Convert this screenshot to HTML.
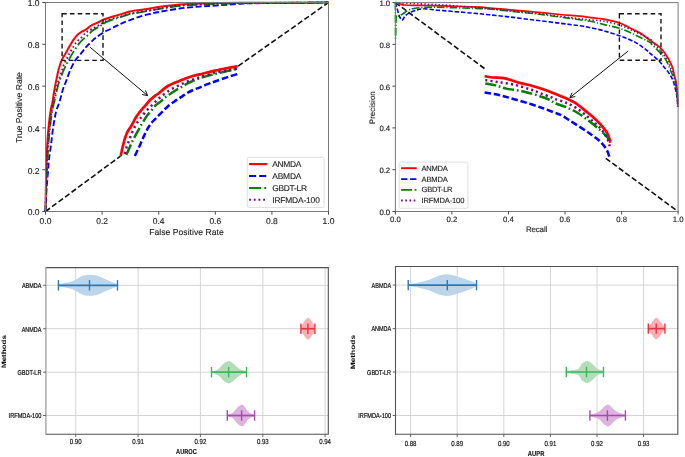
<!DOCTYPE html>
<html><head><meta charset="utf-8"><style>
html,body{margin:0;padding:0;background:#fff;}
svg{display:block;font-family:"Liberation Sans", sans-serif;filter:blur(0.5px);text-rendering:geometricPrecision;}
</style></head><body>
<svg width="685" height="457" viewBox="0 0 685 457">
<rect width="685" height="457" fill="#fff"/>
<g id="roc"><line x1="45.5" y1="211.5" x2="120.5" y2="156.1" stroke="#111" stroke-width="1.6" stroke-dasharray="5.5,2.6"/><line x1="238.2" y1="66.1" x2="328.5" y2="2.5" stroke="#111" stroke-width="1.6" stroke-dasharray="5.5,2.6"/><path d="M45.50,211.50 C45.55,207.92 45.62,198.58 45.80,190.00 C45.98,181.42 46.32,168.33 46.60,160.00 C46.88,151.67 47.18,145.33 47.50,140.00 C47.82,134.67 48.08,132.17 48.50,128.00 C48.92,123.83 49.50,118.67 50.00,115.00 C50.50,111.33 51.05,108.30 51.50,106.00 C51.95,103.70 52.27,103.63 52.70,101.20 C53.13,98.77 53.55,94.67 54.10,91.40 C54.65,88.13 55.28,85.08 56.00,81.60 C56.72,78.12 57.48,73.98 58.40,70.50 C59.32,67.02 60.17,63.77 61.50,60.70 C62.83,57.63 65.23,54.22 66.40,52.10 C67.57,49.98 67.70,49.43 68.50,48.00 C69.30,46.57 70.30,44.97 71.20,43.50 C72.10,42.03 72.80,40.70 73.90,39.20 C75.00,37.70 76.50,35.75 77.80,34.50 C79.10,33.25 80.38,32.50 81.70,31.70 C83.02,30.90 84.38,30.55 85.70,29.70 C87.02,28.85 88.55,27.37 89.60,26.60 C90.65,25.83 90.95,25.63 92.00,25.10 C93.05,24.57 94.58,24.00 95.90,23.40 C97.22,22.80 98.58,22.15 99.90,21.50 C101.22,20.85 102.27,20.12 103.80,19.50 C105.33,18.88 107.73,18.25 109.10,17.80 C110.47,17.35 109.85,17.45 112.00,16.80 C114.15,16.15 119.00,14.78 122.00,13.90 C125.00,13.02 127.00,12.17 130.00,11.50 C133.00,10.83 136.67,10.42 140.00,9.90 C143.33,9.38 146.67,8.92 150.00,8.40 C153.33,7.88 155.05,7.43 160.00,6.80 C164.95,6.17 173.13,5.17 179.70,4.60 C186.27,4.03 192.85,3.68 199.40,3.40 C205.95,3.12 212.23,3.02 219.00,2.90 C225.77,2.78 228.17,2.73 240.00,2.70 C251.83,2.67 275.25,2.73 290.00,2.70 C304.75,2.67 322.08,2.53 328.50,2.50" fill="none" stroke="#ff0000" stroke-width="1.9980000000000002" stroke-linejoin="round" stroke-linecap="butt" /><path d="M45.50,211.50 C45.67,207.92 46.05,196.98 46.50,190.00 C46.95,183.02 47.80,174.60 48.20,169.60 C48.60,164.60 48.43,164.10 48.90,160.00 C49.37,155.90 50.30,150.33 51.00,145.00 C51.70,139.67 52.27,133.50 53.10,128.00 C53.93,122.50 54.90,116.47 56.00,112.00 C57.10,107.53 58.58,104.83 59.70,101.20 C60.82,97.57 61.58,93.67 62.70,90.20 C63.82,86.73 65.17,83.68 66.40,80.40 C67.63,77.12 68.67,73.78 70.10,70.50 C71.53,67.22 73.17,63.55 75.00,60.70 C76.83,57.85 79.27,55.65 81.10,53.40 C82.93,51.15 84.58,48.85 86.00,47.20 C87.42,45.55 88.33,44.77 89.60,43.50 C90.87,42.23 92.55,40.58 93.60,39.60 C94.65,38.62 94.20,38.82 95.90,37.60 C97.60,36.38 101.38,33.73 103.80,32.30 C106.22,30.87 108.20,30.10 110.40,29.00 C112.60,27.90 115.07,26.65 117.00,25.70 C118.93,24.75 119.83,24.23 122.00,23.30 C124.17,22.37 127.00,21.22 130.00,20.10 C133.00,18.98 136.67,17.62 140.00,16.60 C143.33,15.58 146.67,14.80 150.00,14.00 C153.33,13.20 155.05,12.72 160.00,11.80 C164.95,10.88 173.13,9.37 179.70,8.50 C186.27,7.63 192.85,7.13 199.40,6.60 C205.95,6.07 212.43,5.75 219.00,5.30 C225.57,4.85 233.63,4.23 238.80,3.90 C243.97,3.57 241.47,3.45 250.00,3.30 C258.53,3.15 276.92,3.13 290.00,3.00 C303.08,2.87 322.08,2.58 328.50,2.50" fill="none" stroke="#0000ff" stroke-width="1.85" stroke-linejoin="round" stroke-linecap="butt" stroke-dasharray="5.99,2.59" /><path d="M45.50,211.50 C45.62,207.92 45.87,198.58 46.20,190.00 C46.53,181.42 47.07,168.33 47.50,160.00 C47.93,151.67 48.38,145.33 48.80,140.00 C49.22,134.67 49.47,132.67 50.00,128.00 C50.53,123.33 51.22,116.67 52.00,112.00 C52.78,107.33 53.73,104.25 54.70,100.00 C55.67,95.75 56.67,90.60 57.80,86.50 C58.93,82.40 60.07,79.08 61.50,75.40 C62.93,71.72 64.57,68.07 66.40,64.40 C68.23,60.73 70.67,56.47 72.50,53.40 C74.33,50.33 76.25,47.72 77.40,46.00 C78.55,44.28 78.28,44.37 79.40,43.10 C80.52,41.83 82.40,39.97 84.10,38.40 C85.80,36.83 88.28,34.93 89.60,33.70 C90.92,32.47 90.18,32.33 92.00,31.00 C93.82,29.67 98.32,27.07 100.50,25.70 C102.68,24.33 103.23,23.78 105.10,22.80 C106.97,21.82 109.50,20.63 111.70,19.80 C113.90,18.97 116.58,18.32 118.30,17.80 C120.02,17.28 120.05,17.32 122.00,16.70 C123.95,16.08 127.00,14.83 130.00,14.10 C133.00,13.37 136.67,12.88 140.00,12.30 C143.33,11.72 146.67,11.17 150.00,10.60 C153.33,10.03 155.05,9.68 160.00,8.90 C164.95,8.12 173.13,6.62 179.70,5.90 C186.27,5.18 192.85,4.93 199.40,4.60 C205.95,4.27 212.43,4.12 219.00,3.90 C225.57,3.68 226.97,3.48 238.80,3.30 C250.63,3.12 275.05,2.93 290.00,2.80 C304.95,2.67 322.08,2.55 328.50,2.50" fill="none" stroke="#008000" stroke-width="1.85" stroke-linejoin="round" stroke-linecap="butt" stroke-dasharray="10.37,2.59,1.62,2.59" /><path d="M45.50,211.50 C45.58,207.92 45.75,198.58 46.00,190.00 C46.25,181.42 46.63,168.33 47.00,160.00 C47.37,151.67 47.78,145.33 48.20,140.00 C48.62,134.67 48.95,132.67 49.50,128.00 C50.05,123.33 50.63,117.28 51.50,112.00 C52.37,106.72 53.75,100.75 54.70,96.30 C55.65,91.85 56.27,88.78 57.20,85.30 C58.13,81.82 59.17,78.88 60.30,75.40 C61.43,71.92 62.57,67.87 64.00,64.40 C65.43,60.93 67.27,57.67 68.90,54.60 C70.53,51.53 72.45,48.17 73.80,46.00 C75.15,43.83 75.55,43.20 77.00,41.60 C78.45,40.00 80.92,37.98 82.50,36.40 C84.08,34.82 84.92,33.33 86.50,32.10 C88.08,30.87 89.98,30.12 92.00,29.00 C94.02,27.88 96.42,26.65 98.60,25.40 C100.78,24.15 102.92,22.60 105.10,21.50 C107.28,20.40 109.50,19.53 111.70,18.80 C113.90,18.07 116.58,17.53 118.30,17.10 C120.02,16.67 120.05,16.77 122.00,16.20 C123.95,15.63 127.00,14.42 130.00,13.70 C133.00,12.98 136.67,12.48 140.00,11.90 C143.33,11.32 146.67,10.77 150.00,10.20 C153.33,9.63 155.05,9.27 160.00,8.50 C164.95,7.73 173.13,6.30 179.70,5.60 C186.27,4.90 192.85,4.63 199.40,4.30 C205.95,3.97 212.43,3.80 219.00,3.60 C225.57,3.40 226.97,3.25 238.80,3.10 C250.63,2.95 275.05,2.80 290.00,2.70 C304.95,2.60 322.08,2.53 328.50,2.50" fill="none" stroke="#800080" stroke-width="1.85" stroke-linejoin="round" stroke-linecap="butt" stroke-dasharray="1.7,2.5" /><path d="M120.60,155.90 C120.67,155.72 120.75,155.90 121.00,154.80 C121.25,153.70 121.67,151.22 122.10,149.30 C122.53,147.38 123.05,145.37 123.60,143.30 C124.15,141.23 124.72,138.88 125.40,136.90 C126.08,134.92 126.88,132.97 127.70,131.40 C128.52,129.83 129.52,128.73 130.30,127.50 C131.08,126.27 131.55,125.53 132.40,124.00 C133.25,122.47 134.32,120.13 135.40,118.30 C136.48,116.47 137.73,114.58 138.90,113.00 C140.07,111.42 141.23,110.15 142.40,108.80 C143.57,107.45 144.63,106.37 145.90,104.90 C147.17,103.43 148.58,101.43 150.00,100.00 C151.42,98.57 152.93,97.42 154.40,96.30 C155.87,95.18 157.17,94.58 158.80,93.30 C160.43,92.02 162.48,89.93 164.20,88.60 C165.92,87.27 167.45,86.22 169.10,85.30 C170.75,84.38 172.37,83.83 174.10,83.10 C175.83,82.37 177.50,81.72 179.50,80.90 C181.50,80.08 183.90,79.02 186.10,78.20 C188.30,77.38 190.38,76.63 192.70,76.00 C195.02,75.37 197.27,75.07 200.00,74.40 C202.73,73.73 206.05,72.73 209.10,72.00 C212.15,71.27 215.48,70.62 218.30,70.00 C221.12,69.38 222.77,68.92 226.00,68.30 C229.23,67.68 235.75,66.63 237.70,66.30" fill="none" stroke="#ff0000" stroke-width="2.7" stroke-linejoin="round" stroke-linecap="butt" /><path d="M134.90,156.00 C135.30,155.12 136.53,152.32 137.30,150.70 C138.07,149.08 138.82,147.78 139.50,146.30 C140.18,144.82 140.88,143.03 141.40,141.80 C141.92,140.57 141.93,140.35 142.60,138.90 C143.27,137.45 144.47,134.97 145.40,133.10 C146.33,131.23 147.15,129.45 148.20,127.70 C149.25,125.95 150.30,124.28 151.70,122.60 C153.10,120.92 154.88,119.35 156.60,117.60 C158.32,115.85 160.18,113.92 162.00,112.10 C163.82,110.28 165.48,108.43 167.50,106.70 C169.52,104.97 171.92,103.25 174.10,101.70 C176.28,100.15 178.42,98.85 180.60,97.40 C182.78,95.95 185.00,94.28 187.20,93.00 C189.40,91.72 191.67,90.65 193.80,89.70 C195.93,88.75 197.72,88.22 200.00,87.30 C202.28,86.38 204.88,85.22 207.50,84.20 C210.12,83.18 212.15,82.47 215.70,81.20 C219.25,79.93 225.08,77.82 228.80,76.60 C232.52,75.38 236.47,74.35 238.00,73.90" fill="none" stroke="#0000ff" stroke-width="2.5" stroke-linejoin="round" stroke-linecap="butt" stroke-dasharray="6.51,2.82" /><path d="M126.20,154.80 C126.45,154.32 127.15,153.07 127.70,151.90 C128.25,150.73 128.83,149.35 129.50,147.80 C130.17,146.25 131.02,144.08 131.70,142.60 C132.38,141.12 132.92,140.20 133.60,138.90 C134.28,137.60 135.05,136.17 135.80,134.80 C136.55,133.43 137.35,132.10 138.10,130.70 C138.85,129.30 139.58,127.67 140.30,126.40 C141.02,125.13 141.60,124.40 142.40,123.10 C143.20,121.80 144.22,119.98 145.10,118.60 C145.98,117.22 146.70,116.10 147.70,114.80 C148.70,113.50 149.80,112.35 151.10,110.80 C152.40,109.25 153.87,107.07 155.50,105.50 C157.13,103.93 159.27,102.77 160.90,101.40 C162.53,100.03 163.65,98.62 165.30,97.30 C166.95,95.98 169.07,94.68 170.80,93.50 C172.53,92.32 174.07,91.20 175.70,90.20 C177.33,89.20 178.87,88.50 180.60,87.50 C182.33,86.50 184.27,85.20 186.10,84.20 C187.93,83.20 189.60,82.40 191.60,81.50 C193.60,80.60 195.87,79.62 198.10,78.80 C200.33,77.98 202.07,77.45 205.00,76.60 C207.93,75.75 212.38,74.53 215.70,73.70 C219.02,72.87 221.23,72.47 224.90,71.60 C228.57,70.73 235.57,69.02 237.70,68.50" fill="none" stroke="#008000" stroke-width="2.5" stroke-linejoin="round" stroke-linecap="butt" stroke-dasharray="11.26,2.82,1.76,2.82" /><path d="M124.80,153.80 C124.90,153.48 125.05,153.15 125.40,151.90 C125.75,150.65 126.33,148.03 126.90,146.30 C127.47,144.57 128.18,143.17 128.80,141.50 C129.42,139.83 129.98,137.98 130.60,136.30 C131.22,134.62 131.75,133.08 132.50,131.40 C133.25,129.72 134.22,127.82 135.10,126.20 C135.98,124.58 136.80,123.13 137.80,121.70 C138.80,120.27 140.03,118.98 141.10,117.60 C142.17,116.22 143.13,114.73 144.20,113.40 C145.27,112.07 146.27,110.90 147.50,109.60 C148.73,108.30 150.27,106.92 151.60,105.60 C152.93,104.28 154.22,102.93 155.50,101.70 C156.78,100.47 157.93,99.38 159.30,98.20 C160.67,97.02 162.23,95.75 163.70,94.60 C165.17,93.45 166.65,92.30 168.10,91.30 C169.55,90.30 170.85,89.45 172.40,88.60 C173.95,87.75 175.75,87.02 177.40,86.20 C179.05,85.38 180.67,84.48 182.30,83.70 C183.93,82.92 185.57,82.15 187.20,81.50 C188.83,80.85 190.47,80.35 192.10,79.80 C193.73,79.25 195.18,78.80 197.00,78.20 C198.82,77.60 199.88,77.13 203.00,76.20 C206.12,75.27 211.40,73.55 215.70,72.60 C220.00,71.65 225.13,71.18 228.80,70.50 C232.47,69.82 236.22,68.83 237.70,68.50" fill="none" stroke="#800080" stroke-width="2.5" stroke-linejoin="round" stroke-linecap="butt" stroke-dasharray="2.1,3.4" /><rect x="62.1" y="13.8" width="40.9" height="46.6" fill="none" stroke="#151515" stroke-width="1.4" stroke-dasharray="4.6,3.2"/><line x1="89.9" y1="47.1" x2="147.6" y2="95.6" stroke="#111" stroke-width="1"/><polyline points="142.2,94.5 147.6,95.6 145.5,90.5" fill="none" stroke="#111" stroke-width="1"/><rect x="45.5" y="2.5" width="283.0" height="209.0" fill="none" stroke="#7a7a7a" stroke-width="1.0"/><line x1="45.5" y1="211.5" x2="45.5" y2="214.7" stroke="#3a3a3a" stroke-width="0.9"/><line x1="42.3" y1="211.5" x2="45.5" y2="211.5" stroke="#3a3a3a" stroke-width="0.9"/><text x="45.5" y="223.6" font-size="8.5" text-anchor="middle" fill="#202020" stroke="#202020" stroke-width="0.12" textLength="11.8" lengthAdjust="spacing" >0.0</text><text x="39.6" y="215.3" font-size="8.5" text-anchor="end" fill="#202020" stroke="#202020" stroke-width="0.12" textLength="11.8" lengthAdjust="spacing" >0.0</text><line x1="102.1" y1="211.5" x2="102.1" y2="214.7" stroke="#3a3a3a" stroke-width="0.9"/><line x1="42.3" y1="169.7" x2="45.5" y2="169.7" stroke="#3a3a3a" stroke-width="0.9"/><text x="102.1" y="223.6" font-size="8.5" text-anchor="middle" fill="#202020" stroke="#202020" stroke-width="0.12" textLength="11.8" lengthAdjust="spacing" >0.2</text><text x="39.6" y="173.5" font-size="8.5" text-anchor="end" fill="#202020" stroke="#202020" stroke-width="0.12" textLength="11.8" lengthAdjust="spacing" >0.2</text><line x1="158.7" y1="211.5" x2="158.7" y2="214.7" stroke="#3a3a3a" stroke-width="0.9"/><line x1="42.3" y1="127.9" x2="45.5" y2="127.9" stroke="#3a3a3a" stroke-width="0.9"/><text x="158.7" y="223.6" font-size="8.5" text-anchor="middle" fill="#202020" stroke="#202020" stroke-width="0.12" textLength="11.8" lengthAdjust="spacing" >0.4</text><text x="39.6" y="131.7" font-size="8.5" text-anchor="end" fill="#202020" stroke="#202020" stroke-width="0.12" textLength="11.8" lengthAdjust="spacing" >0.4</text><line x1="215.3" y1="211.5" x2="215.3" y2="214.7" stroke="#3a3a3a" stroke-width="0.9"/><line x1="42.3" y1="86.1" x2="45.5" y2="86.1" stroke="#3a3a3a" stroke-width="0.9"/><text x="215.3" y="223.6" font-size="8.5" text-anchor="middle" fill="#202020" stroke="#202020" stroke-width="0.12" textLength="11.8" lengthAdjust="spacing" >0.6</text><text x="39.6" y="89.9" font-size="8.5" text-anchor="end" fill="#202020" stroke="#202020" stroke-width="0.12" textLength="11.8" lengthAdjust="spacing" >0.6</text><line x1="271.9" y1="211.5" x2="271.9" y2="214.7" stroke="#3a3a3a" stroke-width="0.9"/><line x1="42.3" y1="44.3" x2="45.5" y2="44.3" stroke="#3a3a3a" stroke-width="0.9"/><text x="271.9" y="223.6" font-size="8.5" text-anchor="middle" fill="#202020" stroke="#202020" stroke-width="0.12" textLength="11.8" lengthAdjust="spacing" >0.8</text><text x="39.6" y="48.1" font-size="8.5" text-anchor="end" fill="#202020" stroke="#202020" stroke-width="0.12" textLength="11.8" lengthAdjust="spacing" >0.8</text><line x1="328.5" y1="211.5" x2="328.5" y2="214.7" stroke="#3a3a3a" stroke-width="0.9"/><line x1="42.3" y1="2.5" x2="45.5" y2="2.5" stroke="#3a3a3a" stroke-width="0.9"/><text x="328.5" y="223.6" font-size="8.5" text-anchor="middle" fill="#202020" stroke="#202020" stroke-width="0.12" textLength="11.8" lengthAdjust="spacing" >1.0</text><text x="39.6" y="6.3" font-size="8.5" text-anchor="end" fill="#202020" stroke="#202020" stroke-width="0.12" textLength="11.8" lengthAdjust="spacing" >1.0</text><text x="186.5" y="234.8" font-size="8.6" text-anchor="middle" fill="#202020" stroke="#202020" stroke-width="0.12" textLength="74.4" lengthAdjust="spacing" >False Positive Rate</text><text x="22.1" y="107.6" font-size="8.6" text-anchor="middle" fill="#202020" stroke="#202020" stroke-width="0.12" textLength="71" lengthAdjust="spacing" transform="rotate(-90 22.1 107.6)" >True Positive Rate</text><rect x="247.3" y="157.3" width="76.8" height="50.2" rx="1.5" fill="#fff" fill-opacity="0.8" stroke="#d8d8d8" stroke-width="0.8"/><polyline points="249.1,164.1 266.9,164.1" fill="none" stroke="#ff0000" stroke-width="2.16" stroke-linejoin="round" stroke-linecap="butt" /><text x="272.2" y="166.9896" font-size="8.4" text-anchor="start" fill="#202020" stroke="#202020" stroke-width="0.12" textLength="29.2" lengthAdjust="spacing" >ANMDA</text><polyline points="249.1,176.1 266.9,176.1" fill="none" stroke="#0000ff" stroke-width="2.0" stroke-linejoin="round" stroke-linecap="butt" stroke-dasharray="7.03,3.04" /><text x="272.2" y="178.9896" font-size="8.4" text-anchor="start" fill="#202020" stroke="#202020" stroke-width="0.12" textLength="29.2" lengthAdjust="spacing" >ABMDA</text><polyline points="249.1,187.9 266.9,187.9" fill="none" stroke="#008000" stroke-width="2.0" stroke-linejoin="round" stroke-linecap="butt" stroke-dasharray="12.16,3.04,1.90,3.04" /><text x="272.2" y="190.7896" font-size="8.4" text-anchor="start" fill="#202020" stroke="#202020" stroke-width="0.12" textLength="34.8" lengthAdjust="spacing" >GBDT-LR</text><polyline points="249.1,199.7 266.9,199.7" fill="none" stroke="#800080" stroke-width="2.0" stroke-linejoin="round" stroke-linecap="butt" stroke-dasharray="1.8,2.9" /><text x="272.2" y="202.5896" font-size="8.4" text-anchor="start" fill="#202020" stroke="#202020" stroke-width="0.12" textLength="47.6" lengthAdjust="spacing" >IRFMDA-100</text></g><g id="pr"><line x1="395.4" y1="2.6" x2="484.6" y2="68.6" stroke="#111" stroke-width="1.6" stroke-dasharray="5.5,2.6"/><line x1="605.8" y1="158.4" x2="678.1" y2="211.5" stroke="#111" stroke-width="1.6" stroke-dasharray="5.5,2.6"/><path d="M395.40,2.60 C396.17,2.83 398.47,3.60 400.00,4.00 C401.53,4.40 401.27,4.77 404.60,5.00 C407.93,5.23 412.70,5.22 420.00,5.40 C427.30,5.58 438.40,5.80 448.40,6.10 C458.40,6.40 473.18,6.88 480.00,7.20 C486.82,7.52 484.30,7.57 489.30,8.00 C494.30,8.43 502.45,9.13 510.00,9.80 C517.55,10.47 526.27,11.22 534.60,12.00 C542.93,12.78 552.43,13.80 560.00,14.50 C567.57,15.20 575.13,15.72 580.00,16.20 C584.87,16.68 585.28,16.92 589.20,17.40 C593.12,17.88 598.30,18.12 603.50,19.10 C608.70,20.08 615.82,21.72 620.40,23.30 C624.98,24.88 627.47,26.83 631.00,28.60 C634.53,30.37 638.43,31.95 641.60,33.90 C644.77,35.85 646.87,37.98 650.00,40.30 C653.13,42.62 657.78,45.45 660.40,47.80 C663.02,50.15 664.17,52.20 665.70,54.40 C667.23,56.60 668.40,58.60 669.60,61.00 C670.80,63.40 672.13,66.47 672.90,68.80 C673.67,71.13 673.65,72.63 674.20,75.00 C674.75,77.37 675.67,79.98 676.20,83.00 C676.73,86.02 677.13,89.10 677.40,93.10 C677.67,97.10 677.73,104.68 677.80,107.00" fill="none" stroke="#ff0000" stroke-width="1.7280000000000002" stroke-linejoin="round" stroke-linecap="butt" /><path d="M395.40,2.60 C395.67,3.50 396.40,5.93 397.00,8.00 C397.60,10.07 398.28,13.05 399.00,15.00 C399.72,16.95 400.63,18.95 401.30,19.70 C401.97,20.45 402.38,20.12 403.00,19.50 C403.62,18.88 404.00,17.07 405.00,16.00 C406.00,14.93 407.33,14.02 409.00,13.10 C410.67,12.18 412.57,11.22 415.00,10.50 C417.43,9.78 419.73,8.85 423.60,8.80 C427.47,8.75 431.63,9.62 438.20,10.20 C444.77,10.78 456.03,11.70 463.00,12.30 C469.97,12.90 475.62,13.38 480.00,13.80 C484.38,14.22 484.30,14.27 489.30,14.80 C494.30,15.33 502.45,16.12 510.00,17.00 C517.55,17.88 526.27,19.07 534.60,20.10 C542.93,21.13 552.43,22.25 560.00,23.20 C567.57,24.15 575.13,25.08 580.00,25.80 C584.87,26.52 585.28,26.68 589.20,27.50 C593.12,28.32 598.30,29.28 603.50,30.70 C608.70,32.12 615.10,34.05 620.40,36.00 C625.70,37.95 631.05,40.13 635.30,42.40 C639.55,44.67 643.23,47.60 645.90,49.60 C648.57,51.60 649.10,52.50 651.30,54.40 C653.50,56.30 656.92,58.82 659.10,61.00 C661.28,63.18 662.65,65.32 664.40,67.50 C666.15,69.68 668.08,71.68 669.60,74.10 C671.12,76.52 672.38,78.83 673.50,82.00 C674.62,85.17 675.65,90.10 676.30,93.10 C676.95,96.10 677.15,97.68 677.40,100.00 C677.65,102.32 677.73,105.83 677.80,107.00" fill="none" stroke="#0000ff" stroke-width="1.6" stroke-linejoin="round" stroke-linecap="butt" stroke-dasharray="4.40,1.90" /><path d="M395.40,2.60 C395.43,8.50 395.47,35.60 395.60,38.00 C395.73,40.40 395.80,20.60 396.20,17.00 C396.60,13.40 397.08,16.80 398.00,16.40 C398.92,16.00 400.03,15.58 401.70,14.60 C403.37,13.62 405.97,11.52 408.00,10.50 C410.03,9.48 410.82,9.03 413.90,8.50 C416.98,7.97 420.48,7.45 426.50,7.30 C432.52,7.15 441.08,7.38 450.00,7.60 C458.92,7.82 473.45,8.37 480.00,8.60 C486.55,8.83 484.30,8.57 489.30,9.00 C494.30,9.43 502.45,10.42 510.00,11.20 C517.55,11.98 526.27,12.73 534.60,13.70 C542.93,14.67 552.43,15.98 560.00,17.00 C567.57,18.02 575.13,19.13 580.00,19.80 C584.87,20.47 585.28,20.23 589.20,21.00 C593.12,21.77 598.30,23.13 603.50,24.40 C608.70,25.67 615.10,26.83 620.40,28.60 C625.70,30.37 630.35,32.70 635.30,35.00 C640.25,37.30 647.43,40.92 650.10,42.40 C652.77,43.88 649.80,42.33 651.30,43.90 C652.80,45.47 656.70,49.18 659.10,51.80 C661.50,54.42 663.72,56.32 665.70,59.60 C667.68,62.88 669.48,68.10 671.00,71.50 C672.52,74.90 673.92,77.25 674.80,80.00 C675.68,82.75 675.83,84.67 676.30,88.00 C676.77,91.33 677.35,96.83 677.60,100.00 C677.85,103.17 677.77,105.83 677.80,107.00" fill="none" stroke="#008000" stroke-width="1.6" stroke-linejoin="round" stroke-linecap="butt" stroke-dasharray="7.62,1.90,1.19,1.90" /><path d="M395.40,2.60 C399.50,2.80 412.57,3.43 420.00,3.80 C427.43,4.17 433.33,4.40 440.00,4.80 C446.67,5.20 453.33,5.70 460.00,6.20 C466.67,6.70 475.12,7.40 480.00,7.80 C484.88,8.20 484.30,8.10 489.30,8.60 C494.30,9.10 502.45,10.03 510.00,10.80 C517.55,11.57 526.27,12.28 534.60,13.20 C542.93,14.12 552.43,15.37 560.00,16.30 C567.57,17.23 575.13,18.23 580.00,18.80 C584.87,19.37 585.28,19.30 589.20,19.70 C593.12,20.10 598.30,20.25 603.50,21.20 C608.70,22.15 615.10,23.63 620.40,25.40 C625.70,27.17 630.35,29.50 635.30,31.80 C640.25,34.10 647.43,37.62 650.10,39.20 C652.77,40.78 649.58,39.43 651.30,41.30 C653.02,43.17 657.78,47.35 660.40,50.40 C663.02,53.45 665.13,56.32 667.00,59.60 C668.87,62.88 670.23,66.70 671.60,70.10 C672.97,73.50 674.30,76.35 675.20,80.00 C676.10,83.65 676.60,88.67 677.00,92.00 C677.40,95.33 677.47,97.50 677.60,100.00 C677.73,102.50 677.77,105.83 677.80,107.00" fill="none" stroke="#800080" stroke-width="1.6" stroke-linejoin="round" stroke-linecap="butt" stroke-dasharray="1.4,2.2" /><path d="M484.60,76.20 C486.02,76.42 489.93,77.18 493.10,77.50 C496.27,77.82 500.32,77.55 503.60,78.10 C506.88,78.65 509.73,79.92 512.80,80.80 C515.87,81.68 518.72,82.53 522.00,83.40 C525.28,84.27 528.98,85.02 532.50,86.00 C536.02,86.98 539.58,88.10 543.10,89.30 C546.62,90.50 549.87,91.73 553.60,93.20 C557.33,94.67 561.77,96.40 565.50,98.10 C569.23,99.80 572.78,101.35 576.00,103.40 C579.22,105.45 581.88,108.07 584.80,110.40 C587.72,112.73 590.88,115.07 593.50,117.40 C596.12,119.73 598.30,121.92 600.50,124.40 C602.70,126.88 605.17,129.82 606.70,132.30 C608.23,134.78 609.12,137.55 609.70,139.30 C610.28,141.05 610.12,142.22 610.20,142.80" fill="none" stroke="#ff0000" stroke-width="2.7" stroke-linejoin="round" stroke-linecap="butt" /><path d="M484.60,92.60 C487.12,93.03 494.77,94.10 499.70,95.20 C504.63,96.30 509.17,97.77 514.20,99.20 C519.23,100.63 525.08,102.28 529.90,103.80 C534.72,105.32 539.15,106.88 543.10,108.30 C547.05,109.72 550.78,111.25 553.60,112.30 C556.42,113.35 557.43,113.32 560.00,114.60 C562.57,115.88 565.45,117.78 569.00,120.00 C572.55,122.22 577.50,125.42 581.30,127.90 C585.10,130.38 588.60,132.57 591.80,134.90 C595.00,137.23 598.02,139.42 600.50,141.90 C602.98,144.38 605.23,147.32 606.70,149.80 C608.17,152.28 608.87,155.63 609.30,156.80" fill="none" stroke="#0000ff" stroke-width="2.5" stroke-linejoin="round" stroke-linecap="butt" stroke-dasharray="6.44,2.78" /><path d="M485.30,83.40 C487.05,83.73 492.30,84.53 495.80,85.40 C499.30,86.27 502.37,87.73 506.30,88.60 C510.23,89.47 515.03,89.72 519.40,90.60 C523.77,91.48 528.55,92.80 532.50,93.90 C536.45,95.00 540.03,96.10 543.10,97.20 C546.17,98.30 548.92,99.50 550.90,100.50 C552.88,101.50 552.57,102.13 555.00,103.20 C557.43,104.27 561.70,105.27 565.50,106.90 C569.30,108.53 573.72,110.52 577.80,113.00 C581.88,115.48 586.22,118.88 590.00,121.80 C593.78,124.72 597.57,127.87 600.50,130.50 C603.43,133.13 606.13,135.40 607.60,137.60 C609.07,139.80 609.02,142.68 609.30,143.70" fill="none" stroke="#008000" stroke-width="2.5" stroke-linejoin="round" stroke-linecap="butt" stroke-dasharray="11.14,2.78,1.74,2.78" /><path d="M485.30,80.10 C487.48,80.43 493.58,81.33 498.40,82.10 C503.22,82.87 508.95,83.50 514.20,84.70 C519.45,85.90 525.53,87.88 529.90,89.30 C534.27,90.72 536.90,91.88 540.40,93.20 C543.90,94.52 548.47,96.23 550.90,97.20 C553.33,98.17 552.57,98.12 555.00,99.00 C557.43,99.88 562.00,101.03 565.50,102.50 C569.00,103.97 572.50,105.60 576.00,107.80 C579.50,110.00 583.28,113.08 586.50,115.70 C589.72,118.32 592.67,121.03 595.30,123.50 C597.93,125.97 600.25,127.87 602.30,130.50 C604.35,133.13 606.37,136.67 607.60,139.30 C608.83,141.93 609.35,145.13 609.70,146.30" fill="none" stroke="#800080" stroke-width="2.5" stroke-linejoin="round" stroke-linecap="butt" stroke-dasharray="2.1,3.1" /><rect x="619.4" y="13.8" width="41.6" height="46.5" fill="none" stroke="#151515" stroke-width="1.4" stroke-dasharray="4.6,3.2"/><line x1="628.1" y1="51.1" x2="569.9" y2="97.6" stroke="#111" stroke-width="1"/><polyline points="572.1,92.6 569.9,97.6 575.3,96.6" fill="none" stroke="#111" stroke-width="1"/><rect x="395.4" y="2.6" width="282.70000000000005" height="208.9" fill="none" stroke="#7a7a7a" stroke-width="1.0"/><line x1="395.4" y1="211.5" x2="395.4" y2="214.5" stroke="#3a3a3a" stroke-width="0.9"/><line x1="392.4" y1="211.5" x2="395.4" y2="211.5" stroke="#3a3a3a" stroke-width="0.9"/><text x="395.4" y="222.1" font-size="7.8" text-anchor="middle" fill="#202020" stroke="#202020" stroke-width="0.12" textLength="10.8" lengthAdjust="spacing" >0.0</text><text x="390.2" y="214.8" font-size="7.8" text-anchor="end" fill="#202020" stroke="#202020" stroke-width="0.12" textLength="10.8" lengthAdjust="spacing" >0.0</text><line x1="451.9" y1="211.5" x2="451.9" y2="214.5" stroke="#3a3a3a" stroke-width="0.9"/><line x1="392.4" y1="169.7" x2="395.4" y2="169.7" stroke="#3a3a3a" stroke-width="0.9"/><text x="451.9" y="222.1" font-size="7.8" text-anchor="middle" fill="#202020" stroke="#202020" stroke-width="0.12" textLength="10.8" lengthAdjust="spacing" >0.2</text><text x="390.2" y="173.1" font-size="7.8" text-anchor="end" fill="#202020" stroke="#202020" stroke-width="0.12" textLength="10.8" lengthAdjust="spacing" >0.2</text><line x1="508.5" y1="211.5" x2="508.5" y2="214.5" stroke="#3a3a3a" stroke-width="0.9"/><line x1="392.4" y1="127.9" x2="395.4" y2="127.9" stroke="#3a3a3a" stroke-width="0.9"/><text x="508.5" y="222.1" font-size="7.8" text-anchor="middle" fill="#202020" stroke="#202020" stroke-width="0.12" textLength="10.8" lengthAdjust="spacing" >0.4</text><text x="390.2" y="131.3" font-size="7.8" text-anchor="end" fill="#202020" stroke="#202020" stroke-width="0.12" textLength="10.8" lengthAdjust="spacing" >0.4</text><line x1="565.0" y1="211.5" x2="565.0" y2="214.5" stroke="#3a3a3a" stroke-width="0.9"/><line x1="392.4" y1="86.2" x2="395.4" y2="86.2" stroke="#3a3a3a" stroke-width="0.9"/><text x="565.0" y="222.1" font-size="7.8" text-anchor="middle" fill="#202020" stroke="#202020" stroke-width="0.12" textLength="10.8" lengthAdjust="spacing" >0.6</text><text x="390.2" y="89.5" font-size="7.8" text-anchor="end" fill="#202020" stroke="#202020" stroke-width="0.12" textLength="10.8" lengthAdjust="spacing" >0.6</text><line x1="621.6" y1="211.5" x2="621.6" y2="214.5" stroke="#3a3a3a" stroke-width="0.9"/><line x1="392.4" y1="44.4" x2="395.4" y2="44.4" stroke="#3a3a3a" stroke-width="0.9"/><text x="621.6" y="222.1" font-size="7.8" text-anchor="middle" fill="#202020" stroke="#202020" stroke-width="0.12" textLength="10.8" lengthAdjust="spacing" >0.8</text><text x="390.2" y="47.7" font-size="7.8" text-anchor="end" fill="#202020" stroke="#202020" stroke-width="0.12" textLength="10.8" lengthAdjust="spacing" >0.8</text><line x1="678.1" y1="211.5" x2="678.1" y2="214.5" stroke="#3a3a3a" stroke-width="0.9"/><line x1="392.4" y1="2.6" x2="395.4" y2="2.6" stroke="#3a3a3a" stroke-width="0.9"/><text x="678.1" y="222.1" font-size="7.8" text-anchor="middle" fill="#202020" stroke="#202020" stroke-width="0.12" textLength="10.8" lengthAdjust="spacing" >1.0</text><text x="390.2" y="5.9" font-size="7.8" text-anchor="end" fill="#202020" stroke="#202020" stroke-width="0.12" textLength="10.8" lengthAdjust="spacing" >1.0</text><text x="536.6" y="231.9" font-size="8.0" text-anchor="middle" fill="#202020" stroke="#202020" stroke-width="0.12" textLength="21.4" lengthAdjust="spacing" >Recall</text><text x="374.9" y="107.7" font-size="7.9" text-anchor="middle" fill="#202020" stroke="#202020" stroke-width="0.12" textLength="32.9" lengthAdjust="spacing" transform="rotate(-90 374.9 107.7)" >Precision</text><rect x="399.2" y="162.1" width="68.7" height="46.2" rx="1.5" fill="#fff" fill-opacity="0.8" stroke="#d8d8d8" stroke-width="0.8"/><polyline points="401.1,168.2 416.7,168.2" fill="none" stroke="#ff0000" stroke-width="1.9440000000000002" stroke-linejoin="round" stroke-linecap="butt" /><text x="421.6" y="170.81439999999998" font-size="7.6" text-anchor="start" fill="#202020" stroke="#202020" stroke-width="0.12" textLength="26.2" lengthAdjust="spacing" >ANMDA</text><polyline points="401.1,179.1 416.7,179.1" fill="none" stroke="#0000ff" stroke-width="1.8" stroke-linejoin="round" stroke-linecap="butt" stroke-dasharray="6.29,2.72" /><text x="421.6" y="181.71439999999998" font-size="7.6" text-anchor="start" fill="#202020" stroke="#202020" stroke-width="0.12" textLength="26.2" lengthAdjust="spacing" >ABMDA</text><polyline points="401.1,189.8 416.7,189.8" fill="none" stroke="#008000" stroke-width="1.8" stroke-linejoin="round" stroke-linecap="butt" stroke-dasharray="10.88,2.72,1.70,2.72" /><text x="421.6" y="192.4144" font-size="7.6" text-anchor="start" fill="#202020" stroke="#202020" stroke-width="0.12" textLength="31.0" lengthAdjust="spacing" >GBDT-LR</text><polyline points="401.1,200.5 416.7,200.5" fill="none" stroke="#800080" stroke-width="1.8" stroke-linejoin="round" stroke-linecap="butt" stroke-dasharray="1.6,2.6" /><text x="421.6" y="203.1144" font-size="7.6" text-anchor="start" fill="#202020" stroke="#202020" stroke-width="0.12" textLength="42.8" lengthAdjust="spacing" >IRFMDA-100</text></g><line x1="75.7" y1="267.6" x2="75.7" y2="434.3" stroke="#d4d4d4" stroke-width="1"/><line x1="138.1" y1="267.6" x2="138.1" y2="434.3" stroke="#d4d4d4" stroke-width="1"/><line x1="200.4" y1="267.6" x2="200.4" y2="434.3" stroke="#d4d4d4" stroke-width="1"/><line x1="262.8" y1="267.6" x2="262.8" y2="434.3" stroke="#d4d4d4" stroke-width="1"/><line x1="325.1" y1="267.6" x2="325.1" y2="434.3" stroke="#d4d4d4" stroke-width="1"/><line x1="45.9" y1="285.3" x2="328.3" y2="285.3" stroke="#d4d4d4" stroke-width="1"/><line x1="45.9" y1="328.7" x2="328.3" y2="328.7" stroke="#d4d4d4" stroke-width="1"/><line x1="45.9" y1="372.2" x2="328.3" y2="372.2" stroke="#d4d4d4" stroke-width="1"/><line x1="45.9" y1="415.5" x2="328.3" y2="415.5" stroke="#d4d4d4" stroke-width="1"/><path d="M58.4,284.1 L62.0,283.5 L67.5,282.6 L72.0,281.5 L76.9,279.1 L80.0,277.0 L82.7,275.8 L85.0,275.2 L87.4,274.8 L92.0,274.9 L96.7,275.6 L100.0,276.8 L103.7,278.5 L108.0,280.3 L111.9,282.0 L115.0,283.3 L117.5,284.3 L117.5,286.3 L115.0,287.3 L111.9,288.6 L108.0,290.3 L103.7,292.1 L100.0,293.8 L96.7,295.0 L92.0,295.7 L87.4,295.8 L85.0,295.4 L82.7,294.8 L80.0,293.6 L76.9,291.5 L72.0,289.1 L67.5,288.0 L62.0,287.1 L58.4,286.5 Z" fill="#bcd5ea" stroke="none"/><line x1="58.4" y1="285.3" x2="117.5" y2="285.3" stroke="#2a7ab9" stroke-width="1.7"/><line x1="58.4" y1="280.1" x2="58.4" y2="290.5" stroke="#2a7ab9" stroke-width="1.4"/><line x1="117.5" y1="280.1" x2="117.5" y2="290.5" stroke="#2a7ab9" stroke-width="1.4"/><line x1="89.5" y1="280.1" x2="89.5" y2="290.5" stroke="#2a7ab9" stroke-width="1.4"/><path d="M300.9,327.2 L302.0,325.2 L303.1,323.3 L305.0,320.4 L306.5,318.7 L307.9,317.8 L309.5,318.4 L311.0,320.4 L312.8,323.3 L314.0,325.7 L314.9,327.2 L314.9,330.2 L314.0,331.7 L312.8,334.1 L311.0,337.0 L309.5,339.0 L307.9,339.6 L306.5,338.7 L305.0,337.0 L303.1,334.1 L302.0,332.2 L300.9,330.2 Z" fill="#f9b1b6" stroke="none"/><line x1="300.9" y1="328.7" x2="314.9" y2="328.7" stroke="#e8323f" stroke-width="1.7"/><line x1="300.9" y1="323.5" x2="300.9" y2="333.9" stroke="#e8323f" stroke-width="1.4"/><line x1="314.9" y1="323.5" x2="314.9" y2="333.9" stroke="#e8323f" stroke-width="1.4"/><line x1="307.9" y1="323.5" x2="307.9" y2="333.9" stroke="#e8323f" stroke-width="1.4"/><path d="M211.5,371.4 L214.0,370.9 L217.7,369.4 L220.0,367.6 L222.7,364.5 L225.5,362.2 L228.5,361.1 L230.5,361.4 L232.5,362.9 L234.5,364.5 L237.0,366.9 L240.4,369.4 L243.5,370.6 L246.5,371.2 L246.5,373.2 L243.5,373.8 L240.4,375.0 L237.0,377.5 L234.5,379.9 L232.5,381.5 L230.5,383.0 L228.5,383.3 L225.5,382.2 L222.7,379.9 L220.0,376.8 L217.7,375.0 L214.0,373.5 L211.5,373.0 Z" fill="#b3dcb9" stroke="none"/><line x1="211.5" y1="372.2" x2="246.5" y2="372.2" stroke="#3fb55e" stroke-width="1.7"/><line x1="211.5" y1="367.0" x2="211.5" y2="377.4" stroke="#3fb55e" stroke-width="1.4"/><line x1="246.5" y1="367.0" x2="246.5" y2="377.4" stroke="#3fb55e" stroke-width="1.4"/><line x1="228.6" y1="367.0" x2="228.6" y2="377.4" stroke="#3fb55e" stroke-width="1.4"/><path d="M227.3,414.7 L230.0,414.1 L232.7,413.0 L234.5,411.0 L236.7,408.3 L239.0,406.0 L241.8,404.4 L243.5,405.3 L245.5,408.0 L247.5,410.8 L250.0,412.9 L252.4,414.1 L254.6,414.7 L254.6,416.3 L252.4,416.9 L250.0,418.1 L247.5,420.2 L245.5,423.0 L243.5,425.7 L241.8,426.6 L239.0,425.0 L236.7,422.7 L234.5,420.0 L232.7,418.0 L230.0,416.9 L227.3,416.3 Z" fill="#dcb3dd" stroke="none"/><line x1="227.3" y1="415.5" x2="254.6" y2="415.5" stroke="#a848b0" stroke-width="1.7"/><line x1="227.3" y1="410.3" x2="227.3" y2="420.7" stroke="#a848b0" stroke-width="1.4"/><line x1="254.6" y1="410.3" x2="254.6" y2="420.7" stroke="#a848b0" stroke-width="1.4"/><line x1="241.6" y1="410.3" x2="241.6" y2="420.7" stroke="#a848b0" stroke-width="1.4"/><path d="M45.9,267.6 H328.3 V434.3 H45.9" fill="none" stroke="#505050" stroke-width="1.1"/><line x1="45.9" y1="267.05" x2="45.9" y2="434.85" stroke="#8c8c8c" stroke-width="1.1"/><line x1="75.7" y1="434.3" x2="75.7" y2="437.1" stroke="#555" stroke-width="0.9"/><text x="75.7" y="444.3" font-size="7.3" text-anchor="middle" fill="#111" stroke="#111" stroke-width="0.18" textLength="11.8" lengthAdjust="spacingAndGlyphs" >0.90</text><line x1="138.1" y1="434.3" x2="138.1" y2="437.1" stroke="#555" stroke-width="0.9"/><text x="138.1" y="444.3" font-size="7.3" text-anchor="middle" fill="#111" stroke="#111" stroke-width="0.18" textLength="11.8" lengthAdjust="spacingAndGlyphs" >0.91</text><line x1="200.4" y1="434.3" x2="200.4" y2="437.1" stroke="#555" stroke-width="0.9"/><text x="200.4" y="444.3" font-size="7.3" text-anchor="middle" fill="#111" stroke="#111" stroke-width="0.18" textLength="11.8" lengthAdjust="spacingAndGlyphs" >0.92</text><line x1="262.8" y1="434.3" x2="262.8" y2="437.1" stroke="#555" stroke-width="0.9"/><text x="262.8" y="444.3" font-size="7.3" text-anchor="middle" fill="#111" stroke="#111" stroke-width="0.18" textLength="11.8" lengthAdjust="spacingAndGlyphs" >0.93</text><line x1="325.1" y1="434.3" x2="325.1" y2="437.1" stroke="#555" stroke-width="0.9"/><text x="325.1" y="444.3" font-size="7.3" text-anchor="middle" fill="#111" stroke="#111" stroke-width="0.18" textLength="11.8" lengthAdjust="spacingAndGlyphs" >0.94</text><line x1="43.1" y1="285.3" x2="45.9" y2="285.3" stroke="#555" stroke-width="0.9"/><text x="41.4" y="288.1" font-size="7.0" text-anchor="end" fill="#111" stroke="#111" stroke-width="0.22" textLength="19.5" lengthAdjust="spacingAndGlyphs" >ABMDA</text><line x1="43.1" y1="328.7" x2="45.9" y2="328.7" stroke="#555" stroke-width="0.9"/><text x="41.4" y="331.5" font-size="7.0" text-anchor="end" fill="#111" stroke="#111" stroke-width="0.22" textLength="19.7" lengthAdjust="spacingAndGlyphs" >ANMDA</text><line x1="43.1" y1="372.2" x2="45.9" y2="372.2" stroke="#555" stroke-width="0.9"/><text x="41.4" y="375.0" font-size="7.0" text-anchor="end" fill="#111" stroke="#111" stroke-width="0.22" textLength="24.0" lengthAdjust="spacingAndGlyphs" >GBDT-LR</text><line x1="43.1" y1="415.5" x2="45.9" y2="415.5" stroke="#555" stroke-width="0.9"/><text x="41.4" y="418.3" font-size="7.0" text-anchor="end" fill="#111" stroke="#111" stroke-width="0.22" textLength="32.8" lengthAdjust="spacingAndGlyphs" >IRFMDA-100</text><text x="186.4" y="453.6" font-size="7.2" text-anchor="middle" font-weight="bold" fill="#111" stroke="#111" stroke-width="0.12" textLength="20.6" lengthAdjust="spacingAndGlyphs" >AUROC</text><text x="5.8" y="351.55000000000007" font-size="6.3" text-anchor="middle" font-weight="bold" fill="#111" stroke="#111" stroke-width="0.05" textLength="33.0" lengthAdjust="spacingAndGlyphs" transform="rotate(-90 5.8 351.55000000000007)" >Methods</text><line x1="410.6" y1="266.5" x2="410.6" y2="434.3" stroke="#d4d4d4" stroke-width="1"/><line x1="457.2" y1="266.5" x2="457.2" y2="434.3" stroke="#d4d4d4" stroke-width="1"/><line x1="503.8" y1="266.5" x2="503.8" y2="434.3" stroke="#d4d4d4" stroke-width="1"/><line x1="550.4" y1="266.5" x2="550.4" y2="434.3" stroke="#d4d4d4" stroke-width="1"/><line x1="597.0" y1="266.5" x2="597.0" y2="434.3" stroke="#d4d4d4" stroke-width="1"/><line x1="643.6" y1="266.5" x2="643.6" y2="434.3" stroke="#d4d4d4" stroke-width="1"/><line x1="395.5" y1="285.1" x2="677.8" y2="285.1" stroke="#d4d4d4" stroke-width="1"/><line x1="395.5" y1="328.6" x2="677.8" y2="328.6" stroke="#d4d4d4" stroke-width="1"/><line x1="395.5" y1="372.0" x2="677.8" y2="372.0" stroke="#d4d4d4" stroke-width="1"/><line x1="395.5" y1="415.5" x2="677.8" y2="415.5" stroke="#d4d4d4" stroke-width="1"/><path d="M408.2,284.1 L412.0,283.7 L417.5,282.8 L423.0,281.5 L429.2,279.8 L434.0,277.7 L438.5,275.8 L442.5,274.8 L446.7,274.3 L451.0,274.7 L454.9,275.8 L459.5,277.2 L464.2,278.7 L468.5,280.2 L472.4,281.6 L476.5,283.7 L476.5,286.5 L472.4,288.6 L468.5,290.0 L464.2,291.5 L459.5,293.0 L454.9,294.4 L451.0,295.5 L446.7,295.9 L442.5,295.4 L438.5,294.4 L434.0,292.5 L429.2,290.4 L423.0,288.7 L417.5,287.4 L412.0,286.5 L408.2,286.1 Z" fill="#bcd5ea" stroke="none"/><line x1="408.2" y1="285.1" x2="476.5" y2="285.1" stroke="#2a7ab9" stroke-width="1.7"/><line x1="408.2" y1="279.90000000000003" x2="408.2" y2="290.3" stroke="#2a7ab9" stroke-width="1.4"/><line x1="476.5" y1="279.90000000000003" x2="476.5" y2="290.3" stroke="#2a7ab9" stroke-width="1.4"/><line x1="447.3" y1="279.90000000000003" x2="447.3" y2="290.3" stroke="#2a7ab9" stroke-width="1.4"/><path d="M648.3,327.2 L649.5,325.6 L651.0,323.6 L653.0,320.8 L654.8,318.6 L656.2,317.7 L657.8,318.6 L659.8,321.0 L661.8,323.8 L663.5,326.0 L664.9,327.3 L664.9,329.9 L663.5,331.2 L661.8,333.4 L659.8,336.2 L657.8,338.6 L656.2,339.5 L654.8,338.6 L653.0,336.4 L651.0,333.6 L649.5,331.6 L648.3,330.0 Z" fill="#f9b1b6" stroke="none"/><line x1="648.3" y1="328.6" x2="664.9" y2="328.6" stroke="#e8323f" stroke-width="1.7"/><line x1="648.3" y1="323.40000000000003" x2="648.3" y2="333.8" stroke="#e8323f" stroke-width="1.4"/><line x1="664.9" y1="323.40000000000003" x2="664.9" y2="333.8" stroke="#e8323f" stroke-width="1.4"/><line x1="656.2" y1="323.40000000000003" x2="656.2" y2="333.8" stroke="#e8323f" stroke-width="1.4"/><path d="M566.3,371.0 L570.0,370.4 L574.0,369.9 L578.0,369.2 L579.6,367.5 L581.0,365.0 L582.5,362.9 L585.0,361.6 L587.4,361.1 L590.0,361.9 L592.4,363.9 L595.0,366.4 L597.3,368.8 L600.0,370.1 L603.5,371.0 L603.5,373.0 L600.0,373.9 L597.3,375.2 L595.0,377.6 L592.4,380.1 L590.0,382.1 L587.4,382.9 L585.0,382.4 L582.5,381.1 L581.0,379.0 L579.6,376.5 L578.0,374.8 L574.0,374.1 L570.0,373.6 L566.3,373.0 Z" fill="#b3dcb9" stroke="none"/><line x1="566.3" y1="372.0" x2="603.5" y2="372.0" stroke="#3fb55e" stroke-width="1.7"/><line x1="566.3" y1="366.8" x2="566.3" y2="377.2" stroke="#3fb55e" stroke-width="1.4"/><line x1="603.5" y1="366.8" x2="603.5" y2="377.2" stroke="#3fb55e" stroke-width="1.4"/><line x1="586.5" y1="366.8" x2="586.5" y2="377.2" stroke="#3fb55e" stroke-width="1.4"/><path d="M589.9,414.7 L593.0,414.0 L597.0,412.7 L600.0,410.9 L602.5,408.2 L605.0,406.0 L607.6,404.4 L609.5,405.1 L612.0,407.5 L614.5,409.9 L617.0,411.7 L620.0,413.1 L623.0,414.1 L625.4,414.7 L625.4,416.3 L623.0,416.9 L620.0,417.9 L617.0,419.3 L614.5,421.1 L612.0,423.5 L609.5,425.9 L607.6,426.6 L605.0,425.0 L602.5,422.8 L600.0,420.1 L597.0,418.3 L593.0,417.0 L589.9,416.3 Z" fill="#dcb3dd" stroke="none"/><line x1="589.9" y1="415.5" x2="625.4" y2="415.5" stroke="#a848b0" stroke-width="1.7"/><line x1="589.9" y1="410.3" x2="589.9" y2="420.7" stroke="#a848b0" stroke-width="1.4"/><line x1="625.4" y1="410.3" x2="625.4" y2="420.7" stroke="#a848b0" stroke-width="1.4"/><line x1="607.4" y1="410.3" x2="607.4" y2="420.7" stroke="#a848b0" stroke-width="1.4"/><path d="M395.5,266.5 H677.8 V434.3 H395.5" fill="none" stroke="#505050" stroke-width="1.1"/><line x1="395.5" y1="265.95" x2="395.5" y2="434.85" stroke="#555" stroke-width="1.1"/><line x1="410.6" y1="434.3" x2="410.6" y2="437.1" stroke="#555" stroke-width="0.9"/><text x="410.6" y="445.5" font-size="7.3" text-anchor="middle" fill="#111" stroke="#111" stroke-width="0.18" textLength="11.8" lengthAdjust="spacingAndGlyphs" >0.88</text><line x1="457.2" y1="434.3" x2="457.2" y2="437.1" stroke="#555" stroke-width="0.9"/><text x="457.2" y="445.5" font-size="7.3" text-anchor="middle" fill="#111" stroke="#111" stroke-width="0.18" textLength="11.8" lengthAdjust="spacingAndGlyphs" >0.89</text><line x1="503.8" y1="434.3" x2="503.8" y2="437.1" stroke="#555" stroke-width="0.9"/><text x="503.8" y="445.5" font-size="7.3" text-anchor="middle" fill="#111" stroke="#111" stroke-width="0.18" textLength="11.8" lengthAdjust="spacingAndGlyphs" >0.90</text><line x1="550.4" y1="434.3" x2="550.4" y2="437.1" stroke="#555" stroke-width="0.9"/><text x="550.4" y="445.5" font-size="7.3" text-anchor="middle" fill="#111" stroke="#111" stroke-width="0.18" textLength="11.8" lengthAdjust="spacingAndGlyphs" >0.91</text><line x1="597.0" y1="434.3" x2="597.0" y2="437.1" stroke="#555" stroke-width="0.9"/><text x="597.0" y="445.5" font-size="7.3" text-anchor="middle" fill="#111" stroke="#111" stroke-width="0.18" textLength="11.8" lengthAdjust="spacingAndGlyphs" >0.92</text><line x1="643.6" y1="434.3" x2="643.6" y2="437.1" stroke="#555" stroke-width="0.9"/><text x="643.6" y="445.5" font-size="7.3" text-anchor="middle" fill="#111" stroke="#111" stroke-width="0.18" textLength="11.8" lengthAdjust="spacingAndGlyphs" >0.93</text><line x1="392.7" y1="285.1" x2="395.5" y2="285.1" stroke="#555" stroke-width="0.9"/><text x="391.1" y="287.90000000000003" font-size="7.0" text-anchor="end" fill="#111" stroke="#111" stroke-width="0.22" textLength="19.5" lengthAdjust="spacingAndGlyphs" >ABMDA</text><line x1="392.7" y1="328.6" x2="395.5" y2="328.6" stroke="#555" stroke-width="0.9"/><text x="391.1" y="331.40000000000003" font-size="7.0" text-anchor="end" fill="#111" stroke="#111" stroke-width="0.22" textLength="19.7" lengthAdjust="spacingAndGlyphs" >ANMDA</text><line x1="392.7" y1="372.0" x2="395.5" y2="372.0" stroke="#555" stroke-width="0.9"/><text x="391.1" y="374.8" font-size="7.0" text-anchor="end" fill="#111" stroke="#111" stroke-width="0.22" textLength="24.0" lengthAdjust="spacingAndGlyphs" >GBDT-LR</text><line x1="392.7" y1="415.5" x2="395.5" y2="415.5" stroke="#555" stroke-width="0.9"/><text x="391.1" y="418.3" font-size="7.0" text-anchor="end" fill="#111" stroke="#111" stroke-width="0.22" textLength="32.8" lengthAdjust="spacingAndGlyphs" >IRFMDA-100</text><text x="536.1" y="455.6" font-size="7.2" text-anchor="middle" font-weight="bold" fill="#111" stroke="#111" stroke-width="0.12" textLength="16.6" lengthAdjust="spacingAndGlyphs" >AUPR</text><text x="355.40000000000003" y="352.1" font-size="6.3" text-anchor="middle" font-weight="bold" fill="#111" stroke="#111" stroke-width="0.05" textLength="34.3" lengthAdjust="spacingAndGlyphs" transform="rotate(-90 355.40000000000003 352.1)" >Methods</text>
</svg>
</body></html>
